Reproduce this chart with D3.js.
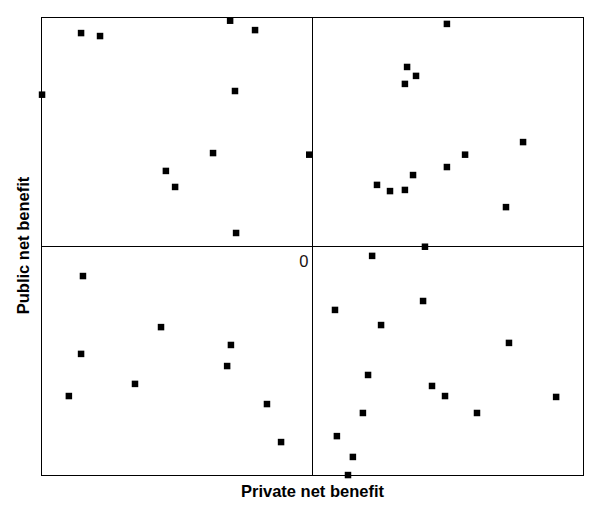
<!DOCTYPE html>
<html>
<head>
<meta charset="utf-8">
<script src="https://cdn.jsdelivr.net/npm/d3@7/dist/d3.min.js"></script>
<style>
  html, body { margin: 0; padding: 0; background: #fff; }
  svg { display: block; }
</style>
</head>
<body>
<script>
// Private net benefit (x) and public net benefit (y), relative units [-100, 100]
const privateBenefit = [
  -30.4, -21.2, -85.4, -78.4, -99.8, -28.6, -36.7, -1.2, -54.1, -50.7, -28.2,
  49.6, 34.9, 38.2, 34.1, 77.7, 56.3, 49.6, 37.1, 23.8, 28.6, 34.1, 71.4, 41.5,
  -84.7, -55.9, -30.1, -85.4, -31.5, -65.5, -89.9, -16.8, -11.6,
  22.0, 40.8, 8.3, 25.3, 72.5, 20.5, 44.1, 48.9, 89.9, 18.6, 60.7, 9.0, 14.9, 13.1
];
const publicBenefit = [
  98.6, 94.5, 93.2, 91.9, 66.3, 67.9, 40.8, 40.1, 33.0, 26.0, 5.9,
  97.2, 78.4, 74.5, 71.0, 45.6, 40.1, 34.7, 31.2, 26.9, 24.2, 24.7, 17.2, -0.1,
  -12.9, -35.2, -43.0, -46.9, -52.2, -60.0, -65.3, -68.8, -85.4,
  -4.1, -23.8, -27.7, -34.3, -42.1, -56.1, -60.9, -65.3, -65.7, -72.7, -72.7, -82.8, -91.9, -99.8
];
const xDomain = [-100, 100];
const yDomain = [-100, 100];
const originLabel = "0";
const xTitle = "Private net benefit";
const yTitle = "Public net benefit";

(function () {
const W = 601, H = 510;
const mLeft = 41.5, mRight = 583.5, mTop = 17.5, mBottom = 475.5;

const svg = d3.select("body").append("svg").attr("width", W).attr("height", H);

const x = d3.scaleLinear().domain(xDomain).range([mLeft, mRight]);
const y = d3.scaleLinear().domain(yDomain).range([mBottom, mTop]);

// frame
svg.append("rect")
  .attr("x", mLeft).attr("y", mTop)
  .attr("width", mRight - mLeft).attr("height", mBottom - mTop)
  .attr("fill", "none").attr("stroke", "#000").attr("stroke-width", 1);

// zero axes
svg.append("line")
  .attr("x1", mLeft).attr("x2", mRight)
  .attr("y1", Math.round(y(0)) - 0.5).attr("y2", Math.round(y(0)) - 0.5)
  .attr("stroke", "#000").attr("stroke-width", 1);
svg.append("line")
  .attr("x1", Math.round(x(0)) - 0.5).attr("x2", Math.round(x(0)) - 0.5)
  .attr("y1", mTop).attr("y2", mBottom)
  .attr("stroke", "#000").attr("stroke-width", 1);

// origin label
svg.append("text")
  .attr("x", x(0) - 4).attr("y", y(0) + 20.5)
  .attr("text-anchor", "end")
  .attr("font-family", "Liberation Sans, Arial, sans-serif")
  .attr("font-size", 16.5)
  .attr("fill", "#1a1010")
  .text(originLabel);

// points
const data = privateBenefit.map((v, i) => ({ x: v, y: publicBenefit[i] }));
const s = 6.5;
svg.append("g").selectAll("rect")
  .data(data).join("rect")
  .attr("x", d => x(d.x) - s / 2)
  .attr("y", d => y(d.y) - s / 2)
  .attr("width", s).attr("height", s)
  .attr("fill", "#000");

// axis titles
svg.append("text")
  .attr("x", (mLeft + mRight) / 2).attr("y", 497)
  .attr("text-anchor", "middle")
  .attr("font-family", "Liberation Sans, Arial, sans-serif")
  .attr("font-size", 16.5).attr("font-weight", "bold")
  .attr("fill", "#000")
  .text(xTitle);

svg.append("text")
  .attr("transform", `translate(28.5,${(mTop + mBottom) / 2 - 1}) rotate(-90)`)
  .attr("text-anchor", "middle")
  .attr("font-family", "Liberation Sans, Arial, sans-serif")
  .attr("font-size", 16.5).attr("font-weight", "bold")
  .attr("fill", "#000")
  .text(yTitle);
})();
</script>
</body>
</html>
